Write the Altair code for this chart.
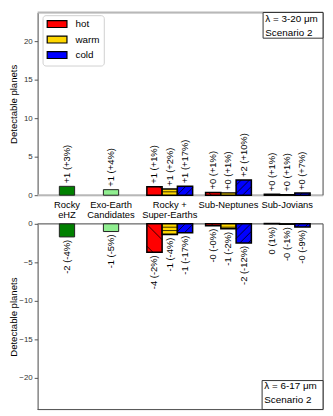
import altair as alt
import pandas as pd
import numpy as np

# ---------------- data ----------------
group_labels = ["Rocky\neHZ", "Exo-Earth\nCandidates", "Rocky +\nSuper-Earths", "Sub-Neptunes", "Sub-Jovians"]
group_pos = [0.25, 1.0, 2.0, 3.0, 4.0]

single_kind = ["eHZ", "EEC"]
single_top = [1.15, 0.72]
single_top_lbl = ["+1 (+3%)", "+1 (+4%)"]
single_bot = [-1.7, -1.0]
single_bot_lbl = ["-2 (-4%)", "-1 (-5%)"]

temps = ["hot", "warm", "cold"]
top_hot = [1.1, 0.35, 0.12]
top_warm = [0.8, 0.3, 0.06]
top_cold = [1.15, 1.98, 0.28]
top_hot_lbl = ["+1 (+1%)", "+0 (+1%)", "+0 (+1%)"]
top_warm_lbl = ["+1 (+2%)", "+0 (+1%)", "+0 (+1%)"]
top_cold_lbl = ["+1 (+17%)", "+2 (+10%)", "+0 (+7%)"]
bot_hot = [-3.7, -0.25, 0.04]
bot_warm = [-1.4, -0.65, -0.05]
bot_cold = [-1.15, -2.48, -0.4]
bot_hot_lbl = ["-4 (-2%)", "-0 (-0%)", "0 (1%)"]
bot_warm_lbl = ["-1 (-4%)", "-1 (-2%)", "-0 (-1%)"]
bot_cold_lbl = ["-1 (-17%)", "-2 (-12%)", "-0 (-9%)"]

annot_top = "λ = 3-20 μm\nScenario 2"
annot_bot = "λ = 6-17 μm\nScenario 2"

# ---------------- layout / style ----------------
FONT = "Liberation Sans"
W = 289
H_TOP = 185
H_BOT = 188
X_DOM = [-0.25, 4.61]
PXU = 7.8
Y_TOP_DOM = [0, H_TOP / PXU]
Y_BOT_DOM = [-H_BOT / PXU, 0]
BW = 0.26
SX = W / (X_DOM[1] - X_DOM[0])
kinds = ["eHZ", "EEC", "hot", "warm", "cold"]
colors = ["#008000", "#90ee90", "#ff0000", "#ffd700", "#0000ff"]
HATCH = {"hot": ("\\", 22.0), "warm": ("-", 3.4), "cold": ("/", 8.3)}
SPINE = "#555555"
LIGHT = "#b8b8b8"


def build(single_vals, single_lbls, hot, warm, cold, hot_l, warm_l, cold_l):
    rows = []
    for i, (k, v, l) in enumerate(zip(single_kind, single_vals, single_lbls)):
        c = group_pos[i]
        rows.append(dict(kind=k, xc=c, x=c - BW / 2, x2=c + BW / 2, y=0.0, y2=v, lbl=l))
    for gi in range(3):
        c = group_pos[2 + gi]
        for j, (k, vals, lbls) in enumerate(zip(temps, [hot, warm, cold], [hot_l, warm_l, cold_l])):
            xc = c + (j - 1) * BW
            rows.append(dict(kind=k, xc=xc, x=xc - BW / 2, x2=xc + BW / 2, y=0.0, y2=vals[gi], lbl=lbls[gi]))
    return pd.DataFrame(rows)


def hatch_df(df):
    segs = []
    for _, r in df.iterrows():
        if r.kind not in HATCH:
            continue
        style, step = HATCH[r.kind]
        x0 = (r.x - X_DOM[0]) * SX
        x1 = (r.x2 - X_DOM[0]) * SX
        y0 = min(r.y, r.y2) * PXU
        y1 = max(r.y, r.y2) * PXU
        if y1 - y0 < 1.5:
            continue
        if style == "-":
            k = np.ceil(y0 / step) * step
            while k < y1:
                if k > y0:
                    segs.append((x0, k, x1, k))
                k += step
        elif style == "/":
            k = np.ceil((y0 - x1) / step) * step
            while k <= y1 - x0:
                xa = max(x0, y0 - k)
                xb = min(x1, y1 - k)
                if xb - xa > 0.5:
                    segs.append((xa, xa + k, xb, xb + k))
                k += step
        else:
            k = np.ceil((x0 + y0) / step) * step
            while k <= x1 + y1:
                xa = max(x0, k - y1)
                xb = min(x1, k - y0)
                if xb - xa > 0.5:
                    segs.append((xa, k - xa, xb, k - xb))
                k += step
    out = pd.DataFrame(segs, columns=["a", "b", "c", "d"])
    out["hx"] = out.a / SX + X_DOM[0]
    out["hx2"] = out.c / SX + X_DOM[0]
    out["hy"] = out.b / PXU
    out["hy2"] = out.d / PXU
    return out


top_df = build(single_top, single_top_lbl, top_hot, top_warm, top_cold, top_hot_lbl, top_warm_lbl, top_cold_lbl)
bot_df = build(single_bot, single_bot_lbl, bot_hot, bot_warm, bot_cold, bot_hot_lbl, bot_warm_lbl, bot_cold_lbl)
bot_df["ylab"] = bot_df.y2.clip(upper=0)
groups_df = pd.DataFrame({"xc": group_pos, "name": group_labels})

SYM = "M-1.075,-0.875H3.925V0.875H-1.075Z"


def panel(df, ydom, height, top):
    xs = alt.Scale(domain=X_DOM, nice=False, zero=False)
    ys = alt.Scale(domain=ydom, nice=False, zero=False)
    yvals = [0, 5, 10, 15, 20] if top else [0, -5, -10, -15, -20]
    yaxis = alt.Axis(values=yvals, title="Detectable planets", grid=False, tickSize=3.5,
                     tickColor=SPINE, domainColor=SPINE, labelColor="#333333", labelFontSize=8,
                     labelPadding=2, labelFont=FONT, titleFont=FONT, titleFontSize=9.7,
                     titleFontWeight="normal", titleColor="black", titleAngle=270,
                     titleX=-24, titleY=height / 2, titleAlign="center", titleBaseline="middle",
                     labelFlush=False, labelOverlap=False)
    if top:
        legend = alt.Legend(values=temps, orient="none", legendX=5, legendY=2.7, title=None,
                            symbolType=SYM, symbolSize=64, symbolStrokeColor="black",
                            symbolStrokeWidth=1.2, symbolOpacity=1, labelFontSize=10, labelFont=FONT,
                            labelColor="black", labelOffset=19.3, padding=4, rowPadding=3.7,
                            fillColor="white", strokeColor="#d0d0d0", cornerRadius=3)
    else:
        legend = None
    color = alt.Color("kind:N", scale=alt.Scale(domain=kinds, range=colors), legend=legend)

    base = alt.Chart(df)
    layers = []
    spine = alt.Chart(pd.DataFrame({"d": [0]}))
    if top:
        layers.append(spine.mark_rule(color=LIGHT, strokeWidth=2).encode(
            x=alt.value(0), x2=alt.value(W), y=alt.value(0)))
        layers.append(spine.mark_rule(color=LIGHT, strokeWidth=2).encode(
            x=alt.value(0), x2=alt.value(W), y=alt.value(height)))
    else:
        layers.append(spine.mark_rule(color=SPINE, strokeWidth=1).encode(
            x=alt.value(0), x2=alt.value(W), y=alt.value(0)))
        layers.append(spine.mark_rule(color=SPINE, strokeWidth=1).encode(
            x=alt.value(0), x2=alt.value(W), y=alt.value(height)))
    layers.append(spine.mark_rule(color=SPINE, strokeWidth=1).encode(
        x=alt.value(W), y=alt.value(0), y2=alt.value(height)))

    bars_green = base.transform_filter(alt.FieldOneOfPredicate(field="kind", oneOf=single_kind)).mark_rect(
        stroke="#222222", strokeWidth=1).encode(
        x=alt.X("x:Q", scale=xs, axis=None), x2="x2:Q",
        y=alt.Y("y:Q", scale=ys, axis=yaxis), y2="y2:Q", color=color)
    bars_t = base.transform_filter(alt.FieldOneOfPredicate(field="kind", oneOf=temps)).mark_rect(
        stroke="black", strokeWidth=1.5).encode(
        x=alt.X("x:Q", scale=xs, axis=None), x2="x2:Q",
        y=alt.Y("y:Q", scale=ys, axis=yaxis), y2="y2:Q", color=color)
    layers += [bars_green, bars_t]

    hd = hatch_df(df)
    layers.append(alt.Chart(hd).mark_rule(color="black", strokeWidth=0.8).encode(
        x=alt.X("hx:Q", scale=xs), x2="hx2:Q", y=alt.Y("hy:Q", scale=ys), y2="hy2:Q"))

    if top:
        layers.append(base.mark_text(angle=270, align="left", baseline="middle", dx=3,
                                     fontSize=9.5, font=FONT, color="black").encode(
            x=alt.X("xc:Q", scale=xs), y=alt.Y("y2:Q", scale=ys), text="lbl:N"))
        layers.append(alt.Chart(groups_df).mark_text(lineBreak="\n", baseline="top", align="center",
                                                     fontSize=9.5, lineHeight=10.5, font=FONT,
                                                     color="black").encode(
            x=alt.X("xc:Q", scale=xs), y=alt.value(height + 5), text="name:N"))
        ann = alt.Chart(pd.DataFrame({"t": [annot_top]}))
        layers.append(ann.mark_rect(fill="white", stroke="#333333", strokeWidth=1).encode(
            x=alt.value(228.3), x2=alt.value(W), y=alt.value(0), y2=alt.value(26)))
        layers.append(ann.mark_text(lineBreak="\n", align="left", baseline="middle", fontSize=10,
                                    lineHeight=14, font=FONT, color="black").encode(
            x=alt.value(230.5), y=alt.value(7), text="t:N"))
    else:
        layers.append(base.mark_text(angle=270, align="right", baseline="middle", dx=-3,
                                     fontSize=9.5, font=FONT, color="black").encode(
            x=alt.X("xc:Q", scale=xs), y=alt.Y("ylab:Q", scale=ys), text="lbl:N"))
        ann = alt.Chart(pd.DataFrame({"t": [annot_bot]}))
        layers.append(ann.mark_rect(fill="white", stroke="#333333", strokeWidth=1).encode(
            x=alt.value(227.3), x2=alt.value(W), y=alt.value(158.7), y2=alt.value(height)))
        layers.append(ann.mark_text(lineBreak="\n", align="left", baseline="middle", fontSize=10,
                                    lineHeight=13.3, font=FONT, color="black").encode(
            x=alt.value(229.5), y=alt.value(164.7), text="t:N"))

    return alt.layer(*layers).properties(width=W, height=height)


top = panel(top_df, Y_TOP_DOM, H_TOP, True)
bot = panel(bot_df, Y_BOT_DOM, H_BOT, False)

chart = alt.vconcat(top, bot, spacing=29).properties(
    bounds="flush",
    padding=0,
).configure_view(stroke=None).configure(font=FONT)

chart.save("out.html", embed_options={"renderer": "svg", "actions": False})
